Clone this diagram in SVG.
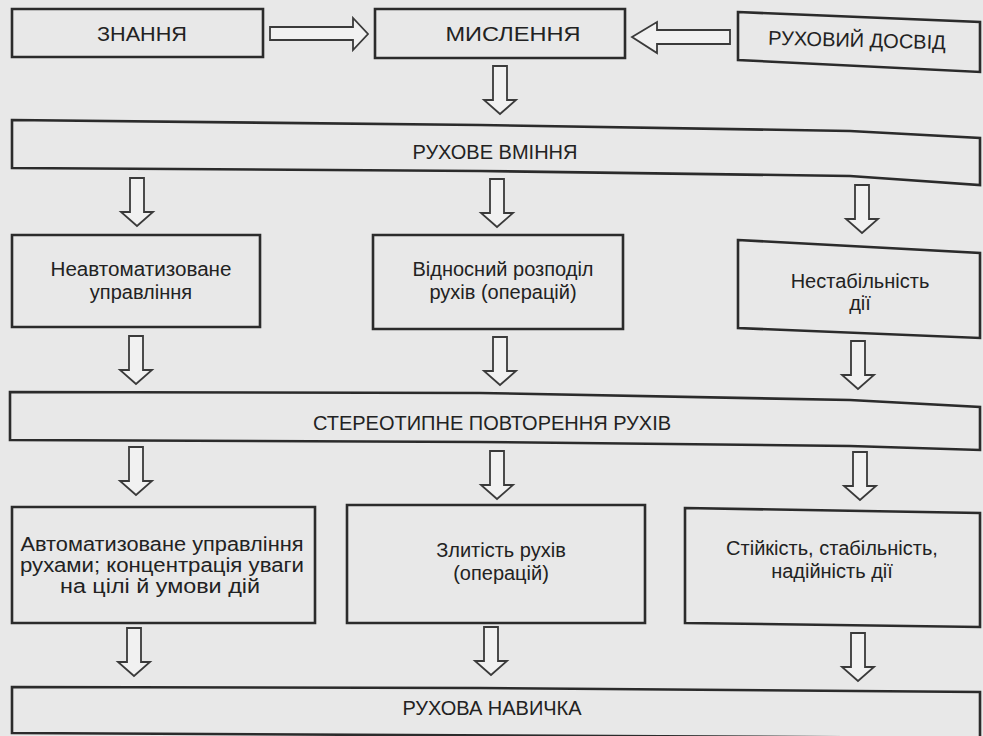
<svg xmlns="http://www.w3.org/2000/svg" width="983" height="736" viewBox="0 0 983 736">
  <style>
    .box { fill: none; stroke: #2b2b2b; stroke-width: 2.6; stroke-linejoin: miter; }
    .arr { fill: #f1f1f1; stroke: #3a3a3a; stroke-width: 1.8; stroke-linejoin: miter; }
    .t { font-family: "Liberation Sans", Arial, sans-serif; font-size: 20px; fill: #222; text-anchor: middle; }
  </style>
  <defs>
    <path id="down" d="M-7,0 H7 V34 H16 L0,48 L-16,34 H-7 Z"/>
  </defs>
  <rect x="0" y="0" width="983" height="736" fill="#e8e8e8"/>

  <g id="connectors">
    <path class="arr" d="M270,27 H353 V18 L368,34 L353,50 V40 H270 Z"/>
    <path class="arr" d="M730,30 H657 V22 L632,37 L657,53 V44 H730 Z"/>
    <use href="#down" class="arr" x="500" y="66"/>
    <use href="#down" class="arr" x="137" y="178"/>
    <use href="#down" class="arr" x="497" y="179"/>
    <use href="#down" class="arr" x="862" y="185"/>
    <use href="#down" class="arr" x="136" y="336"/>
    <use href="#down" class="arr" x="500" y="337"/>
    <use href="#down" class="arr" x="858" y="341"/>
    <use href="#down" class="arr" x="136" y="447"/>
    <use href="#down" class="arr" x="497" y="451"/>
    <use href="#down" class="arr" x="860" y="452"/>
    <use href="#down" class="arr" x="134" y="628"/>
    <use href="#down" class="arr" x="491" y="627"/>
    <use href="#down" class="arr" x="858" y="633"/>
  </g>

  <g id="n-znannya">
    <path class="box" d="M12,9 H263 V57 H12 Z"/>
    <text class="t" x="142" y="41" textLength="90" lengthAdjust="spacingAndGlyphs">ЗНАННЯ</text>
  </g>
  <g id="n-myslennya">
    <path class="box" d="M375,9 H625 V58 H375 Z"/>
    <text class="t" x="513" y="41" textLength="135" lengthAdjust="spacingAndGlyphs">МИСЛЕННЯ</text>
  </g>
  <g id="n-dosvid">
    <path class="box" d="M738,12 L980,22 L980,72 L738,60 Z"/>
    <text class="t" x="857" y="47" transform="rotate(1.5 857 40)">РУХОВИЙ ДОСВІД</text>
  </g>
  <g id="n-vminnya">
    <path class="box" d="M12,120 L480,125 L850,131 L980,138 L980,185 L850,176 L480,171 L12,168 Z"/>
    <text class="t" x="495" y="159">РУХОВЕ ВМІННЯ</text>
  </g>
  <g id="n-neavtomat">
    <path class="box" d="M12,235 H260 V327 H12 Z"/>
    <text class="t" x="141" y="276" textLength="181" lengthAdjust="spacingAndGlyphs">Неавтоматизоване</text>
    <text class="t" x="141" y="299">управління</text>
  </g>
  <g id="n-rozpodil">
    <path class="box" d="M373,235 H623 V329 H373 Z"/>
    <text class="t" x="503" y="276">Відносний розподіл</text>
    <text class="t" x="503" y="299">рухів (операцій)</text>
  </g>
  <g id="n-nestabilnist">
    <path class="box" d="M738,240 L980,253 L980,338 L738,328 Z"/>
    <text class="t" x="860" y="288">Нестабільність</text>
    <text class="t" x="860" y="310">дії</text>
  </g>
  <g id="n-stereotyp">
    <path class="box" d="M10,392 L480,393 L850,400 L980,407 L980,450 L850,446 L480,442 L10,440 Z"/>
    <text class="t" x="492" y="430">СТЕРЕОТИПНЕ ПОВТОРЕННЯ РУХІВ</text>
  </g>
  <g id="n-avtomat">
    <path class="box" d="M12,507 H315 V623 H12 Z"/>
    <text class="t" x="162" y="551" textLength="283" lengthAdjust="spacingAndGlyphs">Автоматизоване управління</text>
    <text class="t" x="162" y="572" textLength="284" lengthAdjust="spacingAndGlyphs">рухами; концентрація уваги</text>
    <text class="t" x="160" y="593" textLength="200" lengthAdjust="spacingAndGlyphs">на цілі й умови дій</text>
  </g>
  <g id="n-zlytist">
    <path class="box" d="M347,505 H645 V623 H347 Z"/>
    <text class="t" x="501" y="557">Злитість рухів</text>
    <text class="t" x="501" y="580">(операцій)</text>
  </g>
  <g id="n-stiykist">
    <path class="box" d="M685,508 L980,513 L980,627 L685,623 Z"/>
    <text class="t" x="832" y="555">Стійкість, стабільність,</text>
    <text class="t" x="832" y="578">надійність дії</text>
  </g>
  <g id="n-navychka">
    <path class="box" d="M12,687 L480,688 L980,692 L980,738 L12,733 Z"/>
    <text class="t" x="492" y="715">РУХОВА НАВИЧКА</text>
  </g>
</svg>
